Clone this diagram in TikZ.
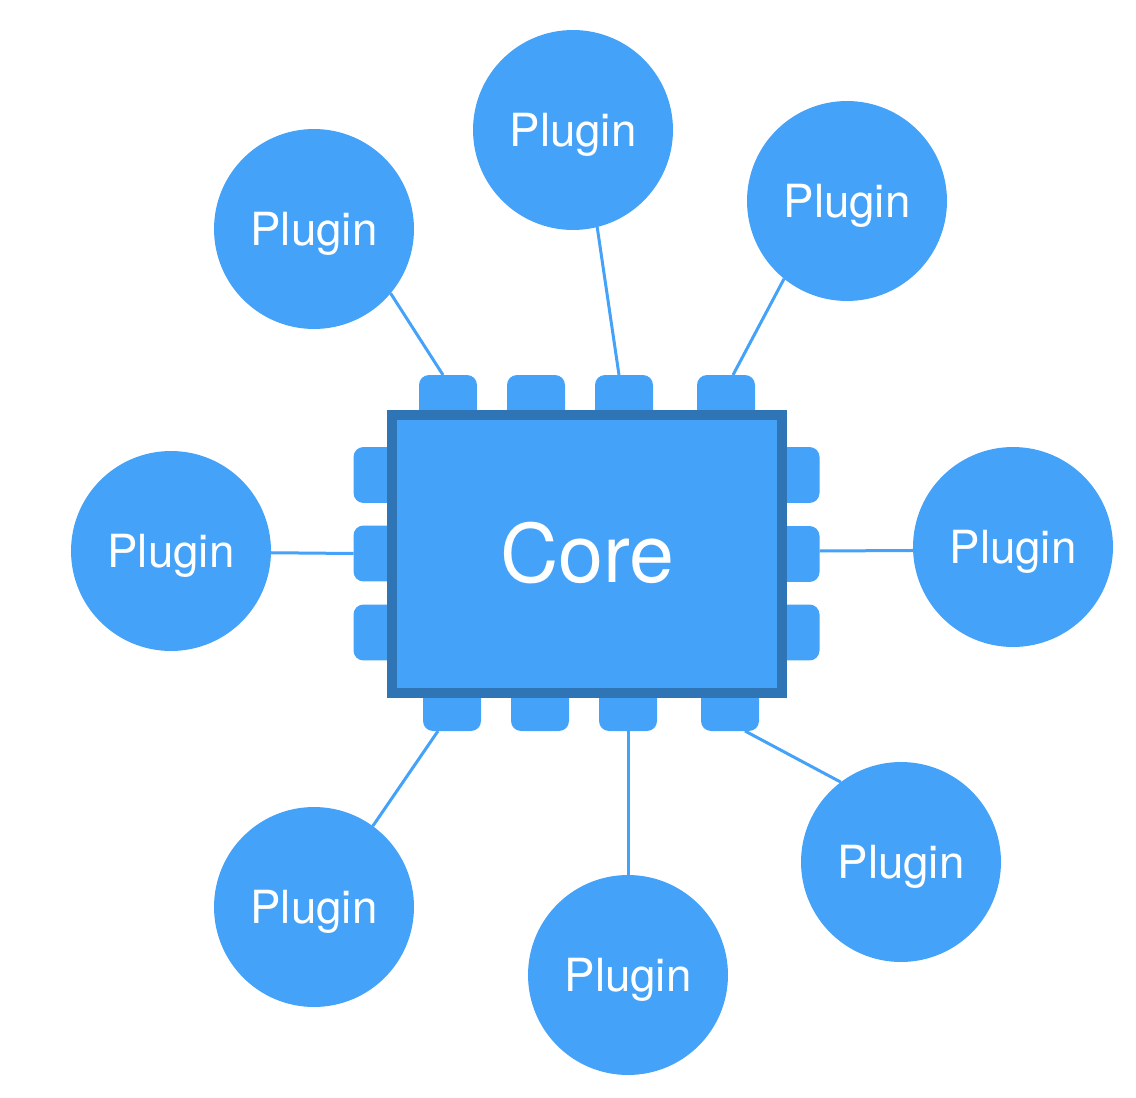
\documentclass[tikz,border=0pt]{standalone}
\usepackage{fontspec}
\setmainfont{TeX Gyre Heros}
\usepackage{tikz}
\usetikzlibrary{calc, positioning}

\definecolor{pluginblue}{RGB}{68,162,248}
\definecolor{coreedge}{RGB}{47,116,181}

\begin{document}
\begin{tikzpicture}
[
    x = 0.02cm, y = -0.02cm,
    every node/.style = {inner sep = 0pt, outer sep = 0pt, align=center}
  ]

  \tikzset{PluginStyle/.style = {shape          = circle,
                                 fill           = pluginblue,
                                 text           = white,
                                 minimum size   = 4cm,
                                 text height    = 18.7pt,
                                 text depth     = 0pt,
                                 font           = \fontsize{26}{30}\selectfont},
           PinStyle/.style    = {shape          = rectangle,
                                 fill           = pluginblue,
                                 rounded corners = 0.2cm},
           TopPin/.style      = {PinStyle, minimum width = 1.16cm, minimum height = 0.9cm},
           SidePin/.style     = {PinStyle, minimum width = 0.86cm, minimum height = 1.12cm},
           CoreStyle/.style   = {shape          = rectangle,
                                 fill           = pluginblue,
                                 draw           = coreedge,
                                 line width     = 0.2cm,
                                 text           = white,
                                 minimum width  = 7.8cm,
                                 minimum height = 5.56cm,
                                 text height    = 33pt,
                                 text depth     = 0pt,
                                 font           = \fontsize{46}{50}\selectfont},
           LinkStyle/.style   = {draw = pluginblue, line width = 0.06cm}}

  \useasboundingbox (0,0) rectangle (1136,1098);

  % pins, partly hidden by the core
  \node[TopPin](t1) at (448,397.5){};
  \node[TopPin](t2) at (536,397.5){};
  \node[TopPin](t3) at (624,397.5){};
  \node[TopPin](t4) at (726,397.5){};

  \node[TopPin](b1) at (452,708.5){};
  \node[TopPin](b2) at (540,708.5){};
  \node[TopPin](b3) at (628,708.5){};
  \node[TopPin](b4) at (730,708.5){};

  \node[SidePin](l1) at (375,475){};
  \node[SidePin](l2) at (375,553.5){};
  \node[SidePin](l3) at (375,632.5){};

  \node[SidePin](r1) at (798,475){};
  \node[SidePin](r2) at (798,554){};
  \node[SidePin](r3) at (798,632.5){};

  \node[CoreStyle](core) at (587.25,554){Core};

  % plugins
  \node[PluginStyle](p1) at (314,229){Plugin};
  \node[PluginStyle](p2) at (573,130){Plugin};
  \node[PluginStyle](p3) at (847,201){Plugin};
  \node[PluginStyle](p4) at (171,551){Plugin};
  \node[PluginStyle](p5) at (1013,547){Plugin};
  \node[PluginStyle](p6) at (314,907){Plugin};
  \node[PluginStyle](p7) at (628,975){Plugin};
  \node[PluginStyle](p8) at (901,862){Plugin};

  \draw[LinkStyle] (p1.-40.5) -- ([xshift=-0.1cm]t1.north);
  \draw[LinkStyle] (p2.-76.4) -- ([xshift=-0.1cm]t3.north);
  \draw[LinkStyle] (p3.-129)  -- ([xshift=0.14cm]t4.north);
  \draw[LinkStyle] (p4.-1)    -- (l2.west);
  \draw[LinkStyle] (p5.182)   -- ([yshift=0.06cm]r2.east);
  \draw[LinkStyle] (p6.54.5)  -- ([xshift=-0.28cm]b1.south);
  \draw[LinkStyle] (p7.90)    -- (b3.south);
  \draw[LinkStyle] (p8.127.7) -- ([xshift=0.3cm]b4.south);
\end{tikzpicture}
\end{document}
